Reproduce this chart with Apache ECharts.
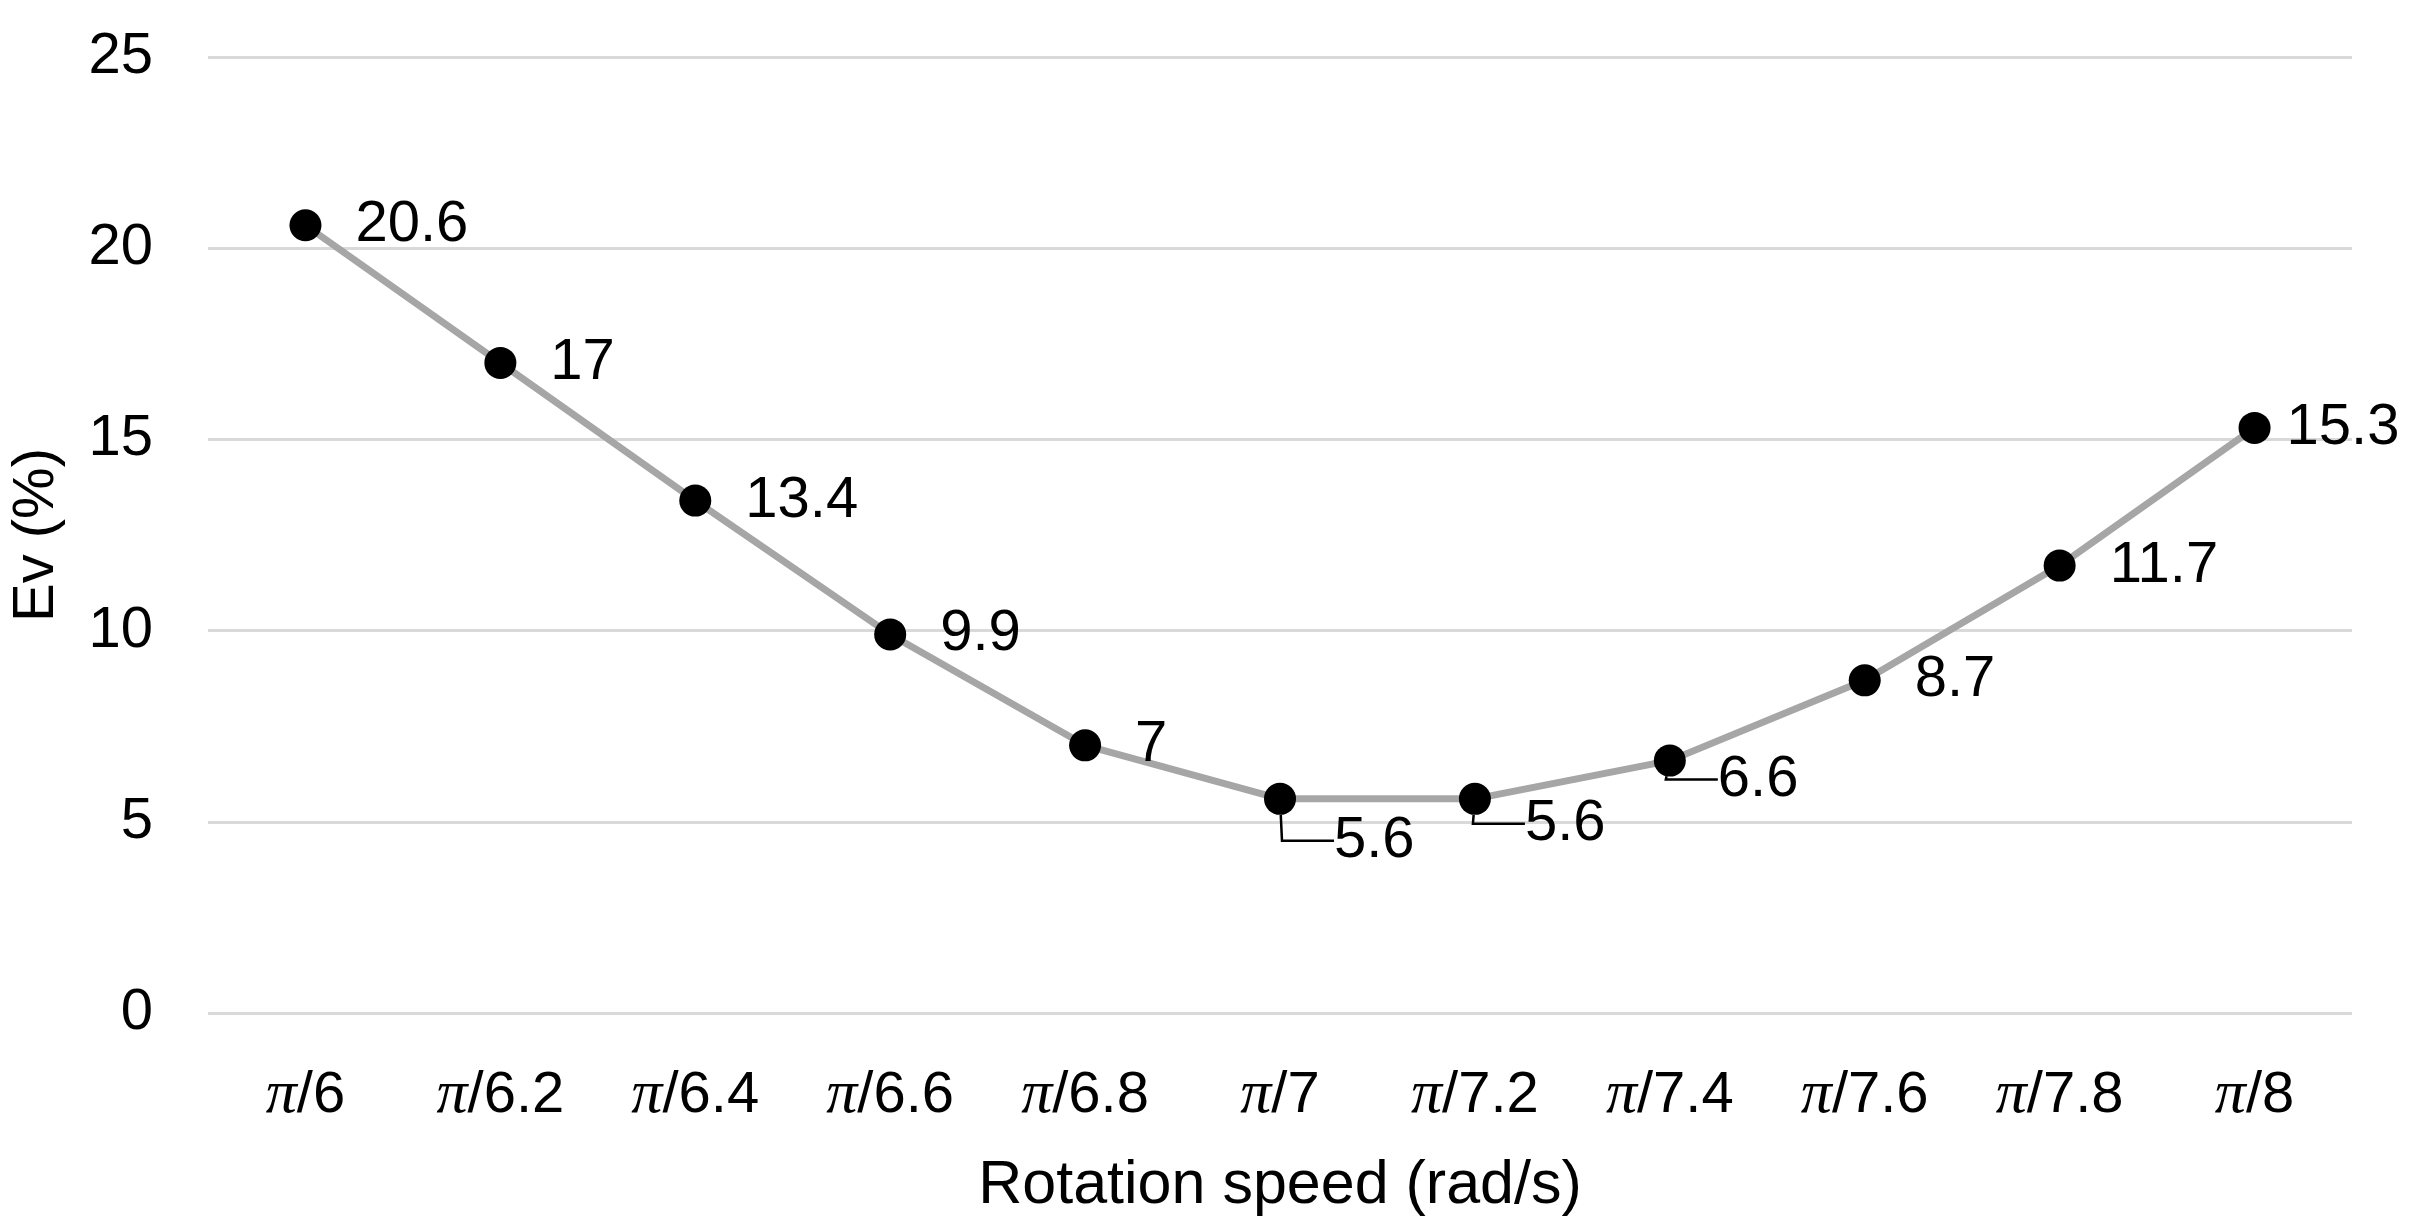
<!DOCTYPE html>
<html><head><meta charset="utf-8">
<script src="https://cdn.jsdelivr.net/npm/echarts@6/dist/echarts.min.js"></script>
<style>html,body{margin:0;padding:0;background:#fff}#c{width:2417px;height:1222px}</style>
</head><body><div id="c"></div>
<script>
const categories = ['6','6.2','6.4','6.6','6.8','7','7.2','7.4','7.6','7.8','8'];
const evValues = [20.6, 17, 13.4, 9.9, 7, 5.6, 5.6, 6.6, 8.7, 11.7, 15.3];
const yTicks = [0, 5, 10, 15, 20, 25];
const xAxisTitle = 'Rotation speed (rad/s)';
const yAxisTitle = 'Ev (%)';

const FONT = '"Liberation Sans", Arial, sans-serif';
const chart = echarts.init(document.getElementById('c'), null, {renderer: 'canvas'});

// label shifts (below-right with a leader line) for the low points
const shifted = {5: [4, 42], 6: [0, 25], 7: [-2, 19], 10: [-18, 0]};
const withLeader = [5, 6, 7];

const data = evValues.map((v, i) => {
  const item = {value: v};
  if (withLeader.indexOf(i) >= 0) {
    item.labelLine = {show: true, length2: 52, lineStyle: {color: '#000', width: 2.5}};
  }
  return item;
});

chart.setOption({
  animation: false,
  backgroundColor: '#fff',
  grid: {left: 205, right: 65, top: 57, bottom: 205, containLabel: false},
  xAxis: {
    type: 'category',
    data: categories,
    boundaryGap: true,
    axisLine: {show: false},
    axisTick: {show: false},
    axisLabel: {
      interval: 0,
      margin: 52,
      fontSize: 58,
      fontFamily: FONT,
      color: '#000',
      formatter: v => '{pi|π}/' + v,
      rich: {pi: {fontFamily: '"Liberation Serif", "Times New Roman", serif', fontStyle: 'italic', fontSize: 62, color: '#000'}}
    },
    name: xAxisTitle,
    nameLocation: 'middle',
    nameGap: 143,
    nameTextStyle: {fontSize: 61, fontFamily: FONT, color: '#000'}
  },
  yAxis: {
    type: 'value',
    min: yTicks[0],
    max: yTicks[yTicks.length - 1],
    interval: 5,
    axisLine: {show: false},
    axisTick: {show: false},
    splitLine: {lineStyle: {color: '#D9D9D9', width: 3}},
    axisLabel: {margin: 55, fontSize: 58, fontFamily: FONT, color: '#000'},
    name: yAxisTitle,
    nameLocation: 'middle',
    nameGap: 142,
    nameRotate: 90,
    nameTextStyle: {fontSize: 58, fontFamily: FONT, color: '#000'}
  },
  series: [{
    type: 'line',
    data: data,
    symbol: 'circle',
    symbolSize: 32,
    itemStyle: {color: '#000'},
    lineStyle: {color: '#A6A6A6', width: 7},
    label: {
      show: true,
      position: 'right',
      distance: 34,
      fontSize: 58,
      fontFamily: FONT,
      color: '#000'
    },
    labelLayout: function (p) {
      const s = shifted[p.dataIndex];
      return s ? {dx: s[0], dy: s[1]} : {};
    }
  }]
});
</script>
</body></html>
